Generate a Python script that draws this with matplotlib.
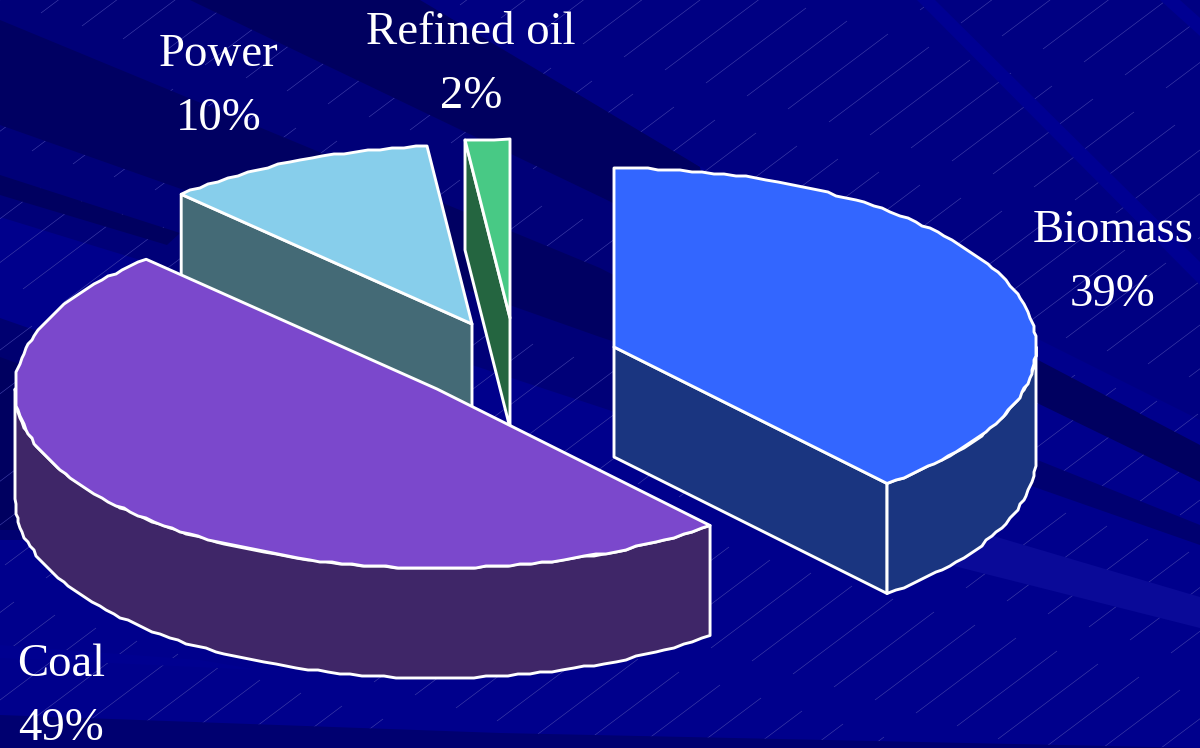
import numpy as np
import matplotlib
matplotlib.use("Agg")
import matplotlib.pyplot as plt
from matplotlib.collections import LineCollection
from matplotlib.patches import Polygon

# Datos del grafico
categorias = ["Biomass", "Coal", "Power", "Refined oil"]
valores = [38.8, 49.1, 10.4, 1.7]
colores_sup = ["#3366ff", "#7b48cc", "#87ceeb", "#48c985"]
colores_lado = ["#1a3580", "#3f2668", "#446a76", "#246540"]

# Geometria de la torta en pixeles
centros = [(614, 347), (437, 389), (472, 324), (510, 318)]
pos_etiquetas = [(1113, 263), (61, 697), (219, 87), (471, 65)]
orden_dibujo = [2, 3, 1, 0]
A, B, PROF = 422, 179, 110

# Bandas del fondo: (color, vertices)
fondo_base = [
    ("#00008c", [(0, 0), (1200, 0), (1200, 748), (0, 748)]),
    ("#000082", [(420, 0), (1200, 0), (1200, 420), (1000, 320), (610, 120)]),
    ("#000078", [(0, 0), (420, 0), (700, 167), (700, 440), (472, 365), (140, 260), (0, 217)]),
    ("#000070", [(0, 318), (40, 332), (40, 540), (0, 540)]),
    ("#000060", [(0, 357), (30, 368), (30, 530), (0, 530)]),
]
fondo_bandas = [
    ("#000060", [(190, 0), (420, 0), (700, 167), (720, 260), (607, 200)]),
    ("#000062", [(0, 20), (600, 268), (700, 320), (700, 370), (600, 337), (0, 125)]),
    ("#000060", [(0, 175), (180, 233), (167, 245), (0, 195)]),
    ("#000060", [(1000, 340), (1200, 445), (1200, 482), (1000, 385)]),
    ("#000070", [(1000, 445), (1200, 525), (1200, 545), (1000, 475)]),
    ("#0a0a98", [(990, 535), (1200, 597), (1200, 628), (950, 565)]),
    ("#000092", [(917, 0), (935, 0), (1200, 262), (1200, 285)]),
    ("#000092", [(1160, 0), (1180, 0), (1200, 18), (1200, 36)]),
    ("#000090", [(0, 645), (200, 660), (260, 670), (0, 658)]),
    ("#000070", [(0, 715), (500, 733), (1200, 748), (0, 748)]),
]

plt.rcParams["font.family"] = ["Liberation Serif", "DejaVu Serif"]

fig = plt.figure(figsize=(12, 7.48), dpi=100)
ax = fig.add_axes([0, 0, 1, 1])
ax.set_xlim(0, 1200)
ax.set_ylim(748, 0)
ax.axis("off")

for color, vertices in fondo_base:
    ax.add_patch(Polygon(vertices, closed=True, fc=color, ec="none", zorder=1))

# Rayas finas diagonales del fondo
dir_t = np.array([0.8, -0.6])
dir_n = np.array([0.6, 0.8])
segmentos = []
for k in range(-5, 45):
    for j in range(-8, 12):
        ini = k * 35 * dir_n + (j * 165 + k * 25) * dir_t
        segmentos.append([ini, ini + 125 * dir_t])
ax.add_collection(LineCollection(segmentos, colors="#4444ac", linewidths=0.4, zorder=2))

for color, vertices in fondo_bandas:
    ax.add_patch(Polygon(vertices, closed=True, fc=color, ec="none", zorder=3))


def punto(centro, ang, caida=0):
    t = np.radians(ang)
    return np.column_stack([centro[0] + A * np.cos(t), centro[1] - B * np.sin(t) + caida])


def arco_tosco(centro, a_ini, a_fin, caida=0):
    # El contorno original es algo dentado: puntos redondeados a una rejilla
    n = max(int(abs(a_fin - a_ini) / 1.5), 2)
    pts = punto(centro, np.linspace(a_ini, a_fin, n), caida)
    pts[1:-1] = np.round(pts[1:-1] / 2) * 2
    return pts


# Los sectores van en sentido horario desde arriba
angulos = 90 - np.cumsum([0] + valores) * 3.6
borde = dict(ec="white", lw=2.1, joinstyle="round")

for z, i in enumerate(orden_dibujo):
    centro = centros[i]
    a0, a1 = angulos[i], angulos[i + 1]
    base_z = 5 + z

    # Caras de corte visibles
    for ang, visible in ((a0, np.cos(np.radians(a0)) < -1e-6), (a1, np.cos(np.radians(a1)) > 1e-6)):
        if visible:
            p = punto(centro, np.array([ang]))[0]
            cara = [centro, p, (p[0], p[1] + PROF), (centro[0], centro[1] + PROF)]
            ax.add_patch(Polygon(cara, closed=True, fc=colores_lado[i], zorder=base_z, **borde))

    # Pared exterior, solo la parte frontal
    lo, hi = max(a1, -180), min(a0, 0)
    if hi > lo:
        pared = np.vstack([arco_tosco(centro, hi, lo), arco_tosco(centro, lo, hi, PROF)])
        ax.add_patch(Polygon(pared, closed=True, fc=colores_lado[i], zorder=base_z, **borde))

    # Tapa superior
    tapa = np.vstack([[centro], arco_tosco(centro, a0, a1)])
    ax.add_patch(Polygon(tapa, closed=True, fc=colores_sup[i], zorder=base_z, **borde))

for nombre, valor, (x, y) in zip(categorias, valores, pos_etiquetas):
    ax.text(x, y, f"{nombre}\n{round(valor)}%", color="white", fontsize=33.7,
            ha="center", va="center", linespacing=1.66, zorder=20)

fig.savefig("out.png", dpi=100)
